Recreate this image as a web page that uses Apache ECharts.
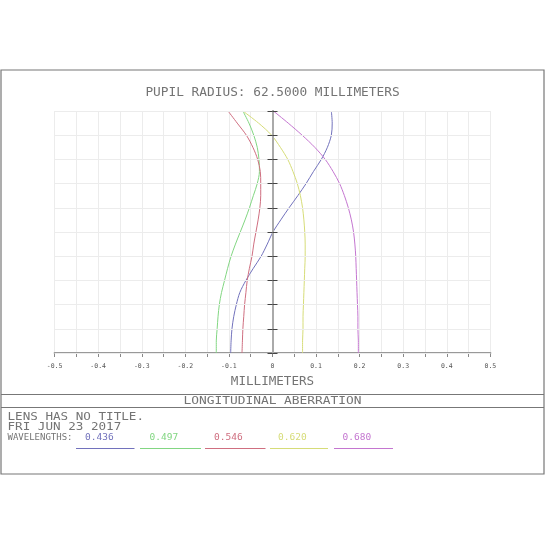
<!DOCTYPE html>
<html>
<head>
<meta charset="utf-8">
<script src="https://cdn.jsdelivr.net/npm/echarts@6/dist/echarts.min.js"></script>
<style>html,body{margin:0;padding:0;background:#fff}#c{width:545px;height:545px}</style>
</head>
<body>
<div id="c"></div>
<script>
// Normalized pupil coordinate (y)
const pupil = [0, 0.05, 0.1, 0.15, 0.2, 0.25, 0.3, 0.35, 0.4, 0.45, 0.5, 0.55, 0.6, 0.65, 0.7, 0.75, 0.8, 0.85, 0.9, 0.95, 1.0];
// Longitudinal aberration (mm) per wavelength
const w436 = [-0.096, -0.095, -0.093, -0.089, -0.083, -0.075, -0.061, -0.044, -0.026, -0.012, 0.001, 0.019, 0.038, 0.058, 0.077, 0.094, 0.112, 0.126, 0.135, 0.137, 0.135];
const w497 = [-0.129, -0.129, -0.127, -0.125, -0.122, -0.117, -0.110, -0.103, -0.095, -0.085, -0.074, -0.063, -0.053, -0.044, -0.035, -0.030, -0.031, -0.035, -0.043, -0.054, -0.068];
const w546 = [-0.070, -0.069, -0.068, -0.066, -0.064, -0.061, -0.058, -0.053, -0.047, -0.043, -0.038, -0.033, -0.029, -0.027, -0.027, -0.028, -0.034, -0.045, -0.060, -0.081, -0.102];
const w620 = [0.069, 0.069, 0.070, 0.070, 0.071, 0.072, 0.073, 0.074, 0.075, 0.075, 0.074, 0.072, 0.069, 0.064, 0.057, 0.047, 0.035, 0.018, -0.002, -0.032, -0.068];
const w680 = [0.197, 0.197, 0.196, 0.196, 0.195, 0.194, 0.193, 0.192, 0.191, 0.189, 0.186, 0.181, 0.174, 0.165, 0.154, 0.139, 0.121, 0.097, 0.068, 0.036, 0.002];
const wavelengths = ['0.436', '0.497', '0.546', '0.620', '0.680'];
const seriesValues = [w436, w497, w546, w620, w680];
const colors = ['#7272bc', '#82d682', '#cf6f80', '#d6dc78', '#c476d0'];
const xTickValues = [-0.5, -0.4, -0.3, -0.2, -0.1, 0, 0.1, 0.2, 0.3, 0.4, 0.5];

const MONO = '"DejaVu Sans Mono", "Liberation Mono", monospace';
const TXT = '#747474';

const chart = echarts.init(document.getElementById('c'), null, {renderer: 'canvas'});

const series = seriesValues.map((vals, i) => ({
  name: wavelengths[i],
  type: 'line',
  xAxisIndex: 0,
  yAxisIndex: 0,
  data: pupil.map((p, j) => [vals[j], p]),
  showSymbol: false,
  smooth: 0.3,
  lineStyle: {color: colors[i], width: 1},
  itemStyle: {color: colors[i]},
  animation: false,
  z: 3
}));

// legend graphics
const legendLeft = [85, 149.5, 214, 278, 342.5];
const lineSeg = [[76, 134.5], [140, 201], [205, 265.5], [270, 328], [334, 393]];
const graphics = [
  {type: 'rect', shape: {x: 1, y: 70, width: 543, height: 404}, style: {fill: null, stroke: '#777', lineWidth: 1.2}, silent: true},
  {type: 'line', shape: {x1: 1, y1: 394.5, x2: 544, y2: 394.5}, style: {stroke: '#777', lineWidth: 1.2}},
  {type: 'line', shape: {x1: 1, y1: 407.5, x2: 544, y2: 407.5}, style: {stroke: '#777', lineWidth: 1.2}},
  {type: 'text', x: 272.5, y: 401.5, scaleX: 1.17, style: {text: 'LONGITUDINAL ABERRATION', font: '11px ' + MONO, fill: TXT, align: 'center', verticalAlign: 'middle'}},
  {type: 'text', x: 7.5, y: 417.5, scaleX: 1.2, style: {text: 'LENS HAS NO TITLE.', font: '10.5px ' + MONO, fill: TXT, align: 'left', verticalAlign: 'middle'}},
  {type: 'text', x: 7.5, y: 427, scaleX: 1.2, style: {text: 'FRI JUN 23 2017', font: '10.5px ' + MONO, fill: TXT, align: 'left', verticalAlign: 'middle'}},
  {type: 'text', x: 7.5, y: 438, style: {text: 'WAVELENGTHS:', font: '9px ' + MONO, fill: TXT, align: 'left', verticalAlign: 'middle'}}
];
wavelengths.forEach((w, i) => {
  graphics.push({type: 'text', x: legendLeft[i], y: 438, style: {text: w, font: '9.5px ' + MONO, fill: colors[i], align: 'left', verticalAlign: 'middle'}});
  graphics.push({type: 'line', shape: {x1: lineSeg[i][0], y1: 448.5, x2: lineSeg[i][1], y2: 448.5}, style: {stroke: colors[i], lineWidth: 1}});
});

const option = {
  animation: false,
  backgroundColor: '#fff',
  title: {
    text: 'PUPIL RADIUS: 62.5000 MILLIMETERS',
    left: 'center',
    top: 81,
    textStyle: {fontFamily: MONO, fontSize: 12.8, fontWeight: 'normal', color: TXT}
  },
  grid: {left: 54.6, right: 54.6, top: 111, bottom: 192, containLabel: false},
  xAxis: [{
    type: 'value',
    min: -0.5, max: 0.5, interval: 0.05,
    name: 'MILLIMETERS',
    nameLocation: 'middle',
    nameGap: 22,
    nameTextStyle: {fontFamily: MONO, fontSize: 12.6, color: TXT},
    axisLine: {onZero: false, lineStyle: {color: '#999', width: 2}},
    axisTick: {show: true, length: 4, lineStyle: {color: '#888', width: 1}},
    axisLabel: {
      margin: 10,
      fontFamily: MONO, fontSize: 6.5, color: '#555',
      formatter: function (v) {
        const r = Math.round(v * 100);
        if (r % 10 !== 0) return '';
        const t = xTickValues.find(x => Math.round(x * 100) === r);
        if (t === undefined) return '';
        return t === 0 ? '0' : t.toFixed(1);
      }
    },
    splitLine: {show: true, lineStyle: {color: '#ececec', width: 1}}
  }],
  yAxis: [{
    type: 'value',
    position: 'left',
    min: 0, max: 1, interval: 0.1,
    axisLine: {show: true, onZero: true, onZeroAxisIndex: 0, lineStyle: {color: '#aaa', width: 2}},
    axisTick: {show: true, length: 5, lineStyle: {color: '#444', width: 1}},
    axisLabel: {show: false},
    splitLine: {show: true, lineStyle: {color: '#ececec', width: 1}},
    z: 4
  }, {
    type: 'value',
    position: 'right',
    min: 0, max: 1, interval: 0.1,
    axisLine: {show: true, onZero: true, onZeroAxisIndex: 0, lineStyle: {color: '#aaa', width: 2}},
    axisTick: {show: true, length: 5, lineStyle: {color: '#444', width: 1}},
    axisLabel: {show: false},
    splitLine: {show: false},
    z: 4
  }],
  series: series,
  graphic: graphics
};
chart.setOption(option);
</script>
</body>
</html>
